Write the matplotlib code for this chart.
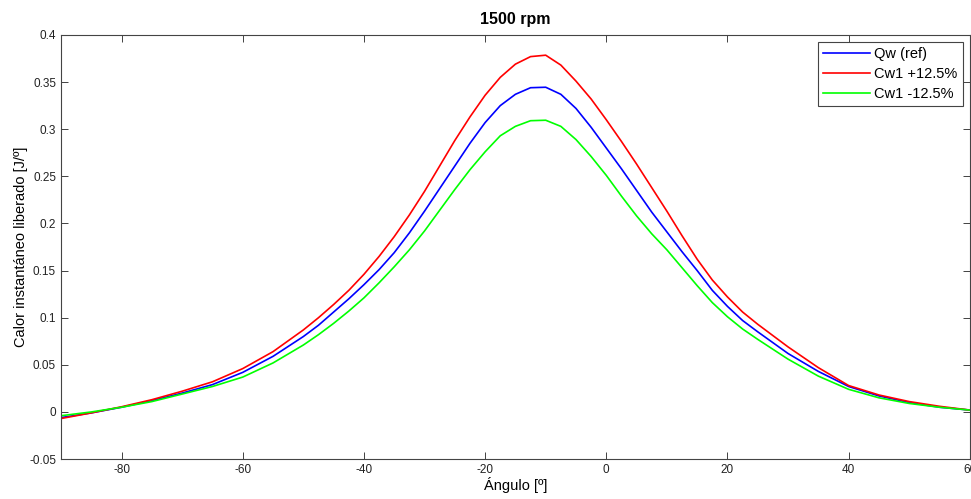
import numpy
import matplotlib
matplotlib.use("Agg")
import matplotlib.pyplot as plt
from matplotlib.ticker import FormatStrFormatter


angle   = [-90, -85, -80, -75, -70, -65, -60, -55, -50, -47.5, -45, -42.5, -40, -37.5,
           -35, -32.5, -30, -27.5, -25, -22.5, -20, -17.5, -15, -12.5, -10, -7.5, -5,
           -2.5, 0, 2.5, 5, 7.5, 10, 12.5, 15, 17.5, 20, 22.5, 25, 30, 35, 40, 45, 50, 55, 60]

qwRef   = [-0.006, -0.001, 0.005, 0.012, 0.020, 0.029, 0.042, 0.059, 0.080, 0.092, 0.106,
           0.120, 0.135, 0.151, 0.169, 0.190, 0.213, 0.237, 0.261, 0.285, 0.307, 0.325,
           0.337, 0.344, 0.3445, 0.337, 0.322, 0.302, 0.280, 0.258, 0.235, 0.212, 0.191,
           0.170, 0.150, 0.129, 0.112, 0.097, 0.085, 0.062, 0.043, 0.027, 0.017, 0.010,
           0.005, 0.002]

cwPlus  = [-0.007, -0.001, 0.0055, 0.013, 0.022, 0.032, 0.046, 0.064, 0.087, 0.100, 0.114,
           0.129, 0.146, 0.165, 0.186, 0.209, 0.234, 0.261, 0.288, 0.313, 0.336, 0.355,
           0.369, 0.377, 0.3785, 0.368, 0.351, 0.332, 0.310, 0.287, 0.263, 0.238, 0.213,
           0.187, 0.162, 0.140, 0.122, 0.106, 0.093, 0.069, 0.047, 0.028, 0.018, 0.011,
           0.006, 0.002]

cwMinus = [-0.004, 0.000, 0.005, 0.011, 0.019, 0.027, 0.037, 0.052, 0.071, 0.082, 0.094,
           0.107, 0.121, 0.137, 0.154, 0.172, 0.192, 0.214, 0.236, 0.257, 0.276, 0.293,
           0.303, 0.309, 0.3095, 0.303, 0.289, 0.271, 0.251, 0.229, 0.208, 0.189, 0.172,
           0.153, 0.134, 0.116, 0.101, 0.088, 0.077, 0.056, 0.038, 0.024, 0.015, 0.009,
           0.005, 0.002]

xTicks = numpy.arange(-80, 61, 20)
yTicks = numpy.arange(-0.05, 0.401, 0.05)

plt.rcParams['font.family'] = ['Liberation Sans', 'DejaVu Sans']
plt.rcParams['axes.unicode_minus'] = False

fig = plt.figure(figsize=(9.71, 4.99), dpi=100)
ax = fig.add_axes([0.0628, 0.080, 0.936, 0.850])

ax.plot(angle, qwRef, color='#0000ff', linewidth=1.2, label='Qw (ref)')
ax.plot(angle, cwPlus, color='#ff0000', linewidth=1.2, label='Cw1 +12.5%')
ax.plot(angle, cwMinus, color='#00ff00', linewidth=1.2, label='Cw1 -12.5%')

ax.set_xlim([-90, 60])
ax.set_ylim([-0.05, 0.4])
ax.set_xticks(xTicks)
ax.set_yticks(yTicks)
ax.yaxis.set_major_formatter(FormatStrFormatter('%g'))
ax.tick_params(direction='in', top=True, right=True, length=5, width=0.6,
               labelsize=8.5, colors='#222222')
for side in ax.spines.values():
    side.set_color('#444444')
    side.set_linewidth(0.8)

ax.set_xlabel('Ángulo [º]', fontsize=10.5, labelpad=1)
ax.set_ylabel('Calor instantáneo liberado [J/º]', fontsize=10.5, labelpad=1)
ax.set_title('1500 rpm', fontsize=11.5, fontweight='bold', pad=8)

leg = ax.legend(loc='upper right', fontsize=10.5, fancybox=False, framealpha=1,
                edgecolor='#444444', borderaxespad=0.5, handlelength=3.2,
                handletextpad=0.3, labelspacing=0.4, borderpad=0.35)
leg.get_frame().set_linewidth(0.8)

fig.savefig("out.png", dpi=100)
plt.close()
